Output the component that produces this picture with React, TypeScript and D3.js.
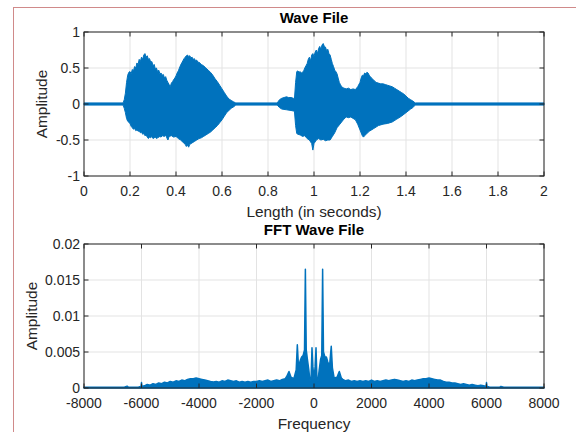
import React from "react";
import * as d3 from "d3";

// ---------- Wave (time domain): upper envelope ----------
const waveUpperT = [
  0, 0.17, 0.175, 0.18, 0.185, 0.19, 0.195, 0.2, 0.205, 0.21, 0.215, 0.22, 0.225, 0.23, 0.235, 0.24, 0.245,
  0.25, 0.255, 0.26, 0.265, 0.27, 0.275, 0.28, 0.285, 0.29, 0.295, 0.3, 0.305, 0.31, 0.315, 0.32, 0.325,
  0.33, 0.335, 0.34, 0.345, 0.35, 0.355, 0.36, 0.365, 0.37, 0.375, 0.38, 0.385, 0.39, 0.395, 0.4, 0.405,
  0.41, 0.415, 0.42, 0.425, 0.43, 0.435, 0.44, 0.445, 0.45, 0.455, 0.46, 0.465, 0.47, 0.475, 0.48, 0.485,
  0.49, 0.495, 0.5, 0.51, 0.52, 0.53, 0.54, 0.55, 0.56, 0.57, 0.58, 0.59, 0.6, 0.61, 0.62, 0.63, 0.64,
  0.65, 0.66,
  0.84, 0.85, 0.86, 0.87, 0.88, 0.89, 0.9, 0.91, 0.915, 0.92, 0.925, 0.93, 0.935, 0.94, 0.945, 0.95,
  0.955, 0.96, 0.965, 0.97, 0.975, 0.98, 0.985, 0.99, 0.995, 1.0, 1.005, 1.01, 1.015, 1.02, 1.025, 1.03,
  1.035, 1.04, 1.045, 1.05, 1.055, 1.06, 1.065, 1.07, 1.075, 1.08, 1.085, 1.09, 1.095, 1.1, 1.105, 1.11,
  1.115, 1.12, 1.13, 1.14, 1.15, 1.16, 1.17, 1.18, 1.19, 1.2, 1.205, 1.21, 1.215, 1.22, 1.225, 1.23,
  1.235, 1.24, 1.245, 1.25, 1.26, 1.27, 1.28, 1.29, 1.3, 1.31, 1.32, 1.33, 1.34, 1.35, 1.36, 1.37, 1.38,
  1.39, 1.4, 1.41, 1.42, 1.43, 1.44, 2.0,
];
const waveUpperV = [
  0.015, 0.015, 0.06, 0.15, 0.3, 0.4, 0.44, 0.45, 0.42, 0.48, 0.46, 0.52, 0.5, 0.57, 0.55, 0.62, 0.59,
  0.65, 0.62, 0.68, 0.7, 0.65, 0.67, 0.62, 0.63, 0.58, 0.59, 0.53, 0.55, 0.49, 0.5, 0.45, 0.47,
  0.42, 0.43, 0.4, 0.41, 0.36, 0.38, 0.33, 0.3, 0.27, 0.24, 0.29, 0.31, 0.34, 0.36, 0.39, 0.43,
  0.46, 0.5, 0.54, 0.57, 0.6, 0.63, 0.65, 0.67, 0.68, 0.66, 0.67, 0.64, 0.65, 0.62, 0.63, 0.6,
  0.61, 0.58, 0.58, 0.55, 0.53, 0.5, 0.47, 0.44, 0.4, 0.35, 0.31, 0.26, 0.21, 0.16, 0.11, 0.07, 0.05,
  0.03, 0.015,
  0.015, 0.06, 0.08, 0.09, 0.1, 0.09, 0.09, 0.08, 0.07, 0.3, 0.45, 0.46, 0.44, 0.45, 0.43, 0.44,
  0.46, 0.5, 0.53, 0.56, 0.62, 0.65, 0.6, 0.68, 0.7, 0.66, 0.72, 0.75, 0.7, 0.77, 0.8, 0.76,
  0.82, 0.84, 0.8, 0.79, 0.74, 0.76, 0.7, 0.68, 0.62, 0.56, 0.52, 0.47, 0.45, 0.42, 0.36, 0.3,
  0.27, 0.24, 0.22, 0.21, 0.22, 0.2, 0.21, 0.2, 0.24, 0.3, 0.36, 0.4, 0.39, 0.43, 0.42, 0.44,
  0.43, 0.4, 0.38, 0.36, 0.33, 0.3, 0.29, 0.28, 0.28, 0.27, 0.26, 0.25, 0.24, 0.22, 0.2, 0.18, 0.16,
  0.14, 0.11, 0.08, 0.06, 0.04, 0.015, 0.015,
];

// ---------- Wave (time domain): lower envelope ----------
const waveLowerT = [
  0, 0.17, 0.175, 0.18, 0.185, 0.19, 0.2, 0.205, 0.21, 0.215, 0.22, 0.225, 0.23, 0.235, 0.24, 0.245, 0.25,
  0.255, 0.26, 0.265, 0.27, 0.275, 0.28, 0.285, 0.29, 0.295, 0.3, 0.31, 0.315, 0.32, 0.33, 0.335, 0.34,
  0.35, 0.355, 0.36, 0.365, 0.37, 0.38, 0.39, 0.4, 0.41, 0.42, 0.43, 0.44, 0.445, 0.45, 0.455, 0.46,
  0.47, 0.48, 0.49, 0.5, 0.51, 0.52, 0.53, 0.54, 0.55, 0.56, 0.57, 0.58, 0.59, 0.6, 0.61, 0.62, 0.63,
  0.64, 0.65, 0.66,
  0.84, 0.85, 0.86, 0.88, 0.9, 0.915, 0.92, 0.925, 0.93, 0.94, 0.95, 0.96, 0.97, 0.98, 0.99, 0.995, 1.0,
  1.01, 1.02, 1.03, 1.04, 1.05, 1.06, 1.07, 1.08, 1.09, 1.1, 1.11, 1.12, 1.13, 1.14, 1.15, 1.16, 1.17,
  1.18, 1.19, 1.2, 1.21, 1.215, 1.22, 1.23, 1.24, 1.25, 1.26, 1.27, 1.28, 1.3, 1.32, 1.34, 1.36, 1.38,
  1.4, 1.42, 1.43, 1.44, 2.0,
];
const waveLowerV = [
  -0.015, -0.015, -0.06, -0.12, -0.2, -0.24, -0.27, -0.31, -0.33, -0.35, -0.34, -0.37, -0.36, -0.38, -0.37, -0.4, -0.39,
  -0.42, -0.41, -0.44, -0.43, -0.46, -0.48, -0.46, -0.47, -0.45, -0.48, -0.46, -0.48, -0.47, -0.45, -0.46, -0.44,
  -0.45, -0.43, -0.47, -0.5, -0.45, -0.44, -0.46, -0.45, -0.48, -0.5, -0.53, -0.56, -0.59, -0.57, -0.6, -0.56,
  -0.54, -0.52, -0.5, -0.48, -0.47, -0.45, -0.43, -0.41, -0.39, -0.36, -0.33, -0.3, -0.26, -0.22, -0.17, -0.12, -0.09,
  -0.06, -0.04, -0.015,
  -0.015, -0.05, -0.07, -0.08, -0.09, -0.1, -0.3, -0.41, -0.42, -0.43, -0.45, -0.44, -0.48, -0.5, -0.55, -0.64, -0.55,
  -0.5, -0.48, -0.5, -0.49, -0.51, -0.5, -0.5, -0.45, -0.4, -0.33, -0.29, -0.25, -0.21, -0.18, -0.19, -0.18, -0.2,
  -0.22, -0.28, -0.36, -0.44, -0.46, -0.44, -0.41, -0.38, -0.36, -0.34, -0.32, -0.3, -0.28, -0.27, -0.25, -0.21, -0.17,
  -0.12, -0.07, -0.05, -0.015, -0.015,
];

// ---------- FFT magnitude upper envelope ----------
const fftFreq = [
  -8000, -7000, -6600, -6500, -6450, -6100, -6020, -6000, -5980, -5900, -5800, -5700, -5600, -5500, -5400,
  -5300, -5200, -5100, -5000, -4900, -4800, -4700, -4600, -4500, -4400, -4300, -4200, -4100, -4000, -3900,
  -3800, -3700, -3600, -3500, -3400, -3300, -3200, -3100, -3000, -2900, -2800, -2700, -2600, -2500, -2400,
  -2300, -2200, -2100, -2000, -1900, -1800, -1700, -1600, -1500, -1400, -1300, -1200, -1100, -1000, -950,
  -870, -800, -700, -620, -580, -540, -480, -430, -380, -330, -300, -270, -230, -180, -140, -100, -70, -40,
  0, 40, 70, 100, 140, 180, 230, 270, 300, 330, 380, 430, 480, 540, 600, 640, 700, 800, 880, 950, 1000,
  1100, 1200, 1300, 1400, 1500, 1600, 1700, 1800, 1900, 2000, 2100, 2200, 2300, 2400, 2500, 2600, 2700,
  2800, 2900, 3000, 3100, 3200, 3300, 3400, 3500, 3600, 3700, 3800, 3900, 4000, 4100, 4200, 4300, 4400,
  4500, 4600, 4700, 4800, 4900, 5000, 5100, 5200, 5300, 5400, 5500, 5600, 5700, 5800, 5900, 5980, 6000,
  6020, 6100, 6450, 6500, 6600, 7000, 8000,
];
const fftUpper = [
  0.0001, 0.0001, 0.00012, 0.00025, 0.0001, 0.00015, 0.0002, 0.00075, 0.0002, 0.0003, 0.0005, 0.0004, 0.0006, 0.0005, 0.0007,
  0.0006, 0.0008, 0.0007, 0.0009, 0.0008, 0.001, 0.0009, 0.0011, 0.001, 0.0012, 0.0013, 0.0013, 0.0014, 0.0013, 0.0012,
  0.0011, 0.001, 0.0009, 0.00085, 0.0009, 0.0008, 0.001, 0.0009, 0.0011, 0.001, 0.0009, 0.001, 0.0008, 0.0009, 0.0008,
  0.0009, 0.0008, 0.0009, 0.0009, 0.001, 0.0009, 0.001, 0.0011, 0.0009, 0.001, 0.0011, 0.001, 0.0012, 0.0013, 0.0016,
  0.0023, 0.0015, 0.0013, 0.0025, 0.006, 0.003, 0.0038, 0.0043, 0.0045, 0.0053, 0.0165, 0.0053, 0.004, 0.0025, 0.001, 0.0015, 0.0056, 0.003,
  0.0012, 0.003, 0.0056, 0.0015, 0.001, 0.0025, 0.004, 0.0045, 0.0165, 0.005, 0.0043, 0.0043, 0.0036, 0.003, 0.0058, 0.0028, 0.0014, 0.0015, 0.0023, 0.0014, 0.0012,
  0.001, 0.0011, 0.0009, 0.001, 0.0009, 0.001, 0.0009, 0.001, 0.0009, 0.0011, 0.0009, 0.001, 0.0009, 0.001, 0.0011, 0.001, 0.0011,
  0.0012, 0.0011, 0.001, 0.0009, 0.001, 0.0009, 0.0011, 0.001, 0.0011, 0.0012, 0.0013, 0.0013, 0.0014, 0.0013, 0.0012, 0.0011, 0.0011,
  0.0009, 0.0008, 0.0008, 0.0007, 0.0007, 0.0006, 0.0005, 0.0006, 0.0005, 0.0004, 0.0005, 0.0004, 0.0003, 0.0004, 0.0003, 0.0002, 0.00075,
  0.0002, 0.00015, 0.0001, 0.00022, 0.0001, 0.0001, 0.0001,
];

// ---------- Axis ticks ----------
const waveXTicks = [0, 0.2, 0.4, 0.6, 0.8, 1, 1.2, 1.4, 1.6, 1.8, 2];
const waveYTicks = [-1, -0.5, 0, 0.5, 1];
const fftXTicks = [-8000, -6000, -4000, -2000, 0, 2000, 4000, 6000, 8000];
const fftYTicks = [0, 0.005, 0.01, 0.015, 0.02];

const BLUE = "#0072BD";
const AX = "#262626";
const GRID = "#e3e3e3";
const FONT = "'Liberation Sans', Arial, Helvetica, sans-serif";

type AxesProps = {
  x: d3.ScaleLinear<number, number>;
  y: d3.ScaleLinear<number, number>;
  xTicks: number[];
  yTicks: number[];
  title: string;
  xLabel: string;
  yLabelX: number;
  children?: React.ReactNode;
};

function Axes({ x, y, xTicks, yTicks, title, xLabel, yLabelX, children }: AxesProps) {
  const [x0, x1] = x.range();
  const [y0, y1] = y.range(); // y0 bottom, y1 top
  const tl = 4.5;
  const fmt = (v: number) => String(v);
  return (
    <g>
      {xTicks.map((t) => (
        <line key={"gx" + t} x1={x(t)} x2={x(t)} y1={y0} y2={y1} stroke={GRID} strokeWidth={1} />
      ))}
      {yTicks.map((t) => (
        <line key={"gy" + t} x1={x0} x2={x1} y1={y(t)} y2={y(t)} stroke={GRID} strokeWidth={1} />
      ))}
      {children}
      <rect x={x0} y={y1} width={x1 - x0} height={y0 - y1} fill="none" stroke={AX} strokeWidth={1} />
      {xTicks.map((t) => (
        <g key={"tx" + t}>
          <line x1={x(t)} x2={x(t)} y1={y0} y2={y0 - tl} stroke={AX} />
          <line x1={x(t)} x2={x(t)} y1={y1} y2={y1 + tl} stroke={AX} />
          <text x={x(t)} y={y0 + 20} textAnchor="middle" fontSize={14} fill={AX} fontFamily={FONT}>
            {fmt(t)}
          </text>
        </g>
      ))}
      {yTicks.map((t) => (
        <g key={"ty" + t}>
          <line x1={x0} x2={x0 + tl} y1={y(t)} y2={y(t)} stroke={AX} />
          <line x1={x1} x2={x1 - tl} y1={y(t)} y2={y(t)} stroke={AX} />
          <text x={x0 - 4} y={y(t) + 5} textAnchor="end" fontSize={14} fill={AX} fontFamily={FONT}>
            {fmt(t)}
          </text>
        </g>
      ))}
      <text x={(x0 + x1) / 2} y={y1 - 9} textAnchor="middle" fontSize={15} fontWeight="bold" fill="#000" fontFamily={FONT}>
        {title}
      </text>
      <text x={(x0 + x1) / 2} y={y0 + 41} textAnchor="middle" fontSize={15.4} fill={AX} fontFamily={FONT}>
        {xLabel}
      </text>
      <text
        transform={`translate(${yLabelX},${(y0 + y1) / 2}) rotate(-90)`}
        textAnchor="middle"
        fontSize={15.4}
        fill={AX}
        fontFamily={FONT}
      >
        Amplitude
      </text>
    </g>
  );
}

export default function App() {
  const xW = d3.scaleLinear().domain([0, 2]).range([84, 544]);
  const yW = d3.scaleLinear().domain([-1, 1]).range([176, 32]);
  const xF = d3.scaleLinear().domain([-8000, 8000]).range([84, 544]);
  const yF = d3.scaleLinear().domain([0, 0.02]).range([388, 244]);

  const upperPts: [number, number][] = waveUpperT.map((t, i) => [xW(t), yW(waveUpperV[i])]);
  const lowerPts: [number, number][] = waveLowerT.map((t, i) => [xW(t), yW(waveLowerV[i])]).reverse() as [number, number][];
  const wavePath = (d3.line()([...upperPts, ...lowerPts]) || "") + "Z";

  const fftArea = d3
    .area<number>()
    .x((_, i) => xF(fftFreq[i]))
    .y0(() => yF(0))
    .y1((d) => yF(d));

  return (
    <svg
      width={576}
      height={432}
      style={{ position: "absolute", left: 0, top: 0, background: "#fff" }}
      xmlns="http://www.w3.org/2000/svg"
    >
      <rect x={0} y={0} width={576} height={432} fill="#fff" />
      <rect x={13.5} y={7.5} width={620} height={500} fill="none" stroke="#d08a8a" strokeWidth={1} />
      <Axes x={xW} y={yW} xTicks={waveXTicks} yTicks={waveYTicks} title="Wave File" xLabel="Length (in seconds)" yLabelX={47}>
        <path d={wavePath} fill={BLUE} stroke={BLUE} strokeWidth={1} strokeLinejoin="round" />
      </Axes>
      <Axes x={xF} y={yF} xTicks={fftXTicks} yTicks={fftYTicks} title="FFT Wave File" xLabel="Frequency" yLabelX={37}>
        <path d={fftArea(fftUpper) || ""} fill={BLUE} stroke={BLUE} strokeWidth={1.5} strokeLinejoin="round" />
      </Axes>
    </svg>
  );
}
